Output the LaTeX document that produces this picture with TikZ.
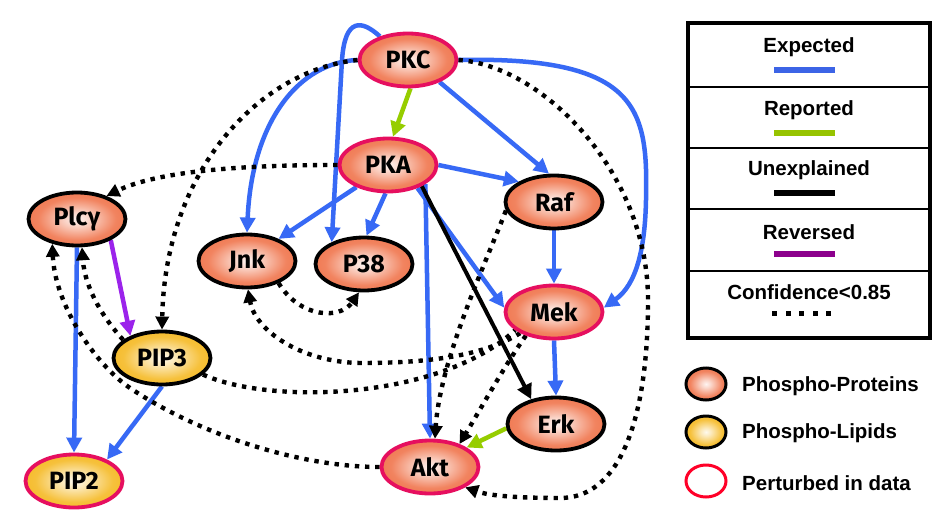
\documentclass[tikz,border=0pt]{standalone}
\usepackage{fontspec}
\newfontfamily\nodefont{Fira Sans}
\newfontfamily\legfont{Liberation Sans}
\usetikzlibrary{shapes.geometric,arrows.meta}
\pgfdeclarelayer{bg}
\pgfsetlayers{bg,main}
\definecolor{protcol}{RGB}{240,118,78}
\definecolor{lipcol}{RGB}{245,186,38}
\definecolor{expblue}{RGB}{55,105,245}
\definecolor{repgreen}{RGB}{150,205,0}
\definecolor{revpurple}{RGB}{155,35,235}
\definecolor{legblue}{RGB}{60,100,230}
\definecolor{leggreen}{RGB}{150,195,0}
\definecolor{legpurple}{RGB}{140,0,140}
\definecolor{pertred}{RGB}{230,15,95}
\definecolor{legred}{RGB}{255,0,40}
\pgfdeclareradialshading{protsh}{\pgfpoint{0bp}{0bp}}{color(0bp)=(white!92!protcol); color(6bp)=(white!70!protcol); color(20bp)=(white!10!protcol); color(28bp)=(protcol); color(50bp)=(protcol)}
\pgfdeclareradialshading{lipsh}{\pgfpoint{0bp}{0bp}}{color(0bp)=(white!92!lipcol); color(6bp)=(white!70!lipcol); color(20bp)=(white!10!lipcol); color(28bp)=(lipcol); color(50bp)=(lipcol)}
\begin{document}
\begin{tikzpicture}[x=1pt,y=-1pt,
  prot/.style={ellipse, draw=black, line width=3.8pt, shade, shading=protsh,
    minimum width=97pt, minimum height=53pt, inner sep=0pt,
    font={\nodefont\bfseries\fontsize{25}{27}\selectfont}},
  lip/.style={prot, shading=lipsh},
  pert/.style={draw=pertred},
  tip/.style={-{Triangle[length=15pt,width=15pt]}},
  exp/.style={draw=expblue, line width=4.5pt, tip},
  rep/.style={draw=repgreen, line width=4.5pt, tip},
  unex/.style={draw=black, line width=4pt, tip},
  rev/.style={draw=revpurple, line width=4.5pt, tip},
  confn/.style={draw=black, line width=4.4pt, dash pattern=on 4.4pt off 5.8pt},
  conf/.style={confn, -{Triangle[length=13pt,width=13pt]}},
  legtext/.style={inner sep=0pt, font={\legfont\bfseries\fontsize{20.5}{22}\selectfont}},
  legbar/.style={line width=5.5pt},
  legell/.style={ellipse, line width=3pt, minimum width=40pt, minimum height=32pt, inner sep=0pt}
]
\useasboundingbox (0,0) rectangle (945,530);

% nodes
\node[prot,pert] (PKC) at (408,60) {PKC};
\node[prot,pert] (PKA) at (388,165) {PKA};
\node[prot] (Raf) at (554,202) {Raf};
\node[prot,pert] (Mek) at (554,312) {Mek};
\node[prot] (Erk) at (556,424) {Erk};
\node[prot,pert] (Akt) at (430,467) {Akt};
\node[prot] (Plc) at (77,219) {Plcγ};
\node[prot] (Jnk) at (247,261) {Jnk};
\node[prot] (P38) at (364,264) {P38};
\node[lip] (PIP3) at (162,358) {PIP3};
\node[lip,pert] (PIP2) at (74,481) {PIP2};

\begin{pgfonlayer}{bg}
\fill[white] (0,0) rectangle (945,530);
% expected
\draw[exp] (PKC.-35) -- (Raf.100);
\draw[exp] (PKC.east) .. controls (640,56) and (648,110) .. (646,200) .. controls (645,250) and (636,285) .. (Mek.5);
\draw[exp] (PKC.west) .. controls (300,62) and (252,120) .. (Jnk.north);
\draw[exp] (PKC.140) .. controls (362,20) and (345,17) .. (342,60) -- (P38.146);
\draw[exp] (PKA.east) -- (Raf.150);
\draw[exp] (PKA.215) -- (Jnk.35);
\draw[exp] (PKA.265) -- (P38.85);
\draw[exp] (PKA.-38) -- (Mek.175);
\draw[exp] (PKA.-27) -- (Akt.north);
\draw[exp] (Raf.south) -- (Mek.north);
\draw[exp] (Mek.south) -- (Erk.north);
\draw[exp] (Plc.south) -- (PIP2.north);
\draw[exp] (PIP3.-90) -- (PIP2.33);
% reported
\draw[rep] (PKC.-85) -- (PKA.80);
\draw[rep] (Erk.185) -- (Akt.28);
% unexplained
\draw[unex] (PKA.-32) -- (Erk.135);
% reversed
\draw[rev] (Plc.-32) -- (PIP3.145);
% confidence < 0.85
\draw[conf] (PKC.west) .. controls (260,70) and (165,170) .. (PIP3.north);
\draw[conf] (PKA.west) .. controls (250,165) and (160,170) .. (Plc.38);
\draw[conf] (PKC.east) .. controls (540,65) and (648,170) .. (648,300) .. controls (648,420) and (620,498) .. (560,498) .. controls (520,498) and (490,496) .. (Akt.-30);
\draw[conf] (Jnk.-35) .. controls (300,318) and (340,320) .. (P38.-100);
\draw[conf] (Mek.212) .. controls (480,358) and (420,363) .. (360,363) .. controls (300,362) and (255,330) .. (Jnk.-88);
\draw[confn] (PIP3.-22) .. controls (270,405) and (440,400) .. (Mek.205);
\draw[conf] (Raf.190) .. controls (485,265) and (440,360) .. (Akt.80);
\draw[conf] (Mek.220) .. controls (505,365) and (480,410) .. (Akt.38);
\draw[conf] (Akt.west) .. controls (300,467) and (200,435) .. (130,388) .. controls (95,364) and (55,305) .. (Plc.225);
\draw[conf] (PIP3.155) .. controls (105,320) and (85,290) .. (Plc.-80);
\end{pgfonlayer}

% legend box
\draw[line width=3.5pt] (688,23) rectangle (930,338);
\foreach \yy in {87,148,209,271} \draw[line width=1.5pt] (688,\yy) -- (930,\yy);
\node[legtext] (lexp) at (809,47) {Expected};
\draw[legbar, draw=legblue] (774,70) -- (835,70);
\node[legtext] (lrep) at (809,110) {Reported};
\draw[legbar, draw=leggreen] (774,133) -- (835,133);
\node[legtext] (lunex) at (809,170) {Unexplained};
\draw[legbar, draw=black] (774,193) -- (835,193);
\node[legtext] (lrev) at (809,232) {Reversed};
\draw[legbar, draw=legpurple] (774,254) -- (835,254);
\node[legtext] (lconf) at (809,292) {Confidence<0.85};
\foreach \i in {0,...,4} \fill (772+13.5*\i,310.5) rectangle +(5,5);

% legend shapes
\node[legell, draw=black, shade, shading=protsh] (lprot) at (706,384) {};
\node[legtext, anchor=west] (lprott) at (742,386) {Phospho-Proteins};
\node[legell, draw=black, shade, shading=lipsh] (llip) at (706,432) {};
\node[legtext, anchor=west] (llipt) at (742,433) {Phospho-Lipids};
\node[legell, draw=legred, fill=white] (lpert) at (706,481) {};
\node[legtext, anchor=west] (lpertt) at (742,483) {Perturbed in data};
\end{tikzpicture}
\end{document}
